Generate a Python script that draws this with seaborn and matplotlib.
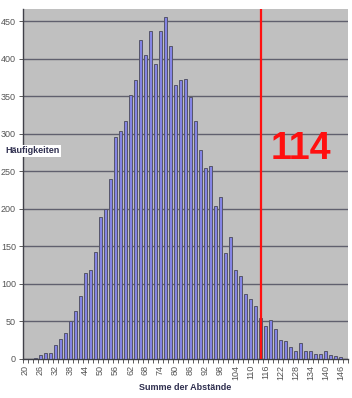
import numpy as np
import pandas as pd
import matplotlib
matplotlib.use("Agg")
import matplotlib.pyplot as plt
import seaborn as sns

# Summe der Abstaende (gerade Werte 20..148) und Haeufigkeiten
summen = list(range(20, 150, 2))
haeufigkeiten = [0, 0, 1, 5, 8, 8, 18, 27, 34, 50,
                 64, 84, 114, 119, 142, 189, 200, 240, 296, 304,
                 317, 352, 371, 425, 405, 437, 393, 437, 456, 417,
                 365, 372, 373, 349, 317, 278, 254, 257, 204, 216,
                 141, 163, 119, 110, 86, 80, 71, 55, 44, 52,
                 40, 25, 24, 16, 11, 21, 11, 11, 7, 7,
                 11, 5, 4, 3, 0]
markierung = 114

df = pd.DataFrame({"summe": [str(s) for s in summen], "anzahl": haeufigkeiten})

sns.set_style("white")
plt.rcParams["font.family"] = ["Liberation Sans", "DejaVu Sans"]

fig = plt.figure(figsize=(3.52, 3.98), dpi=100)
ax = fig.add_axes([23 / 352, 39 / 398, 325 / 352, 350 / 398])
ax.set_facecolor("#c0c0c0")

sns.barplot(data=df, x="summe", y="anzahl", color="#8484e4", width=0.5,
            edgecolor="#55556a", linewidth=0.7, saturation=1, ax=ax, zorder=3)

ax.set_ylim(0, 466)
ax.set_xlim(-0.5, len(summen) - 0.5)
ax.set_yticks(range(0, 451, 50))
ax.yaxis.grid(True, color="#60606e", linewidth=1.0, zorder=0)
ax.set_axisbelow(True)

# Beschriftung nur jede dritte Kategorie, Teilstriche an den Grenzen
pos = list(range(0, len(summen), 3))
ax.set_xticks(pos)
ax.set_xticklabels([str(summen[i]) for i in pos], rotation=90, fontsize=6.5,
                   color="#555555")
ax.set_xticks(np.arange(-0.5, len(summen), 1), minor=True)
ax.tick_params(axis="x", which="major", length=0, pad=4)
ax.tick_params(axis="x", which="minor", length=3, color="#404040", width=0.6,
               direction="out", bottom=True)
ax.tick_params(axis="y", length=3, color="#404040", width=0.6, direction="out",
               left=True, labelsize=6.5, labelcolor="#555555", pad=2)

for s in ["top", "right"]:
    ax.spines[s].set_visible(False)
for s in ["left", "bottom"]:
    ax.spines[s].set_color("#404048")
    ax.spines[s].set_linewidth(1.0)

ax.set_xlabel("")
ax.set_ylabel("")

# rote Markierung bei 114
idx = summen.index(markierung)
ax.axvline(idx, color="#ff1010", linewidth=1.6, zorder=5)
ax.text(idx + 8, 280, str(markierung), color="#ff1010", fontsize=27,
        fontweight="bold", ha="center", va="center", zorder=6)

fig.text(5 / 352, 1 - 151 / 398, "Häufigkeiten", fontsize=6.5, fontweight="bold",
         color="#303050", ha="left", va="center",
         bbox=dict(facecolor="white", edgecolor="none", pad=1.2))
fig.text(185 / 352, 1 - 388 / 398, "Summe der Abstände", fontsize=6.5,
         fontweight="bold", color="#303050", ha="center", va="center")

fig.savefig("out.png", dpi=100, facecolor="white")
